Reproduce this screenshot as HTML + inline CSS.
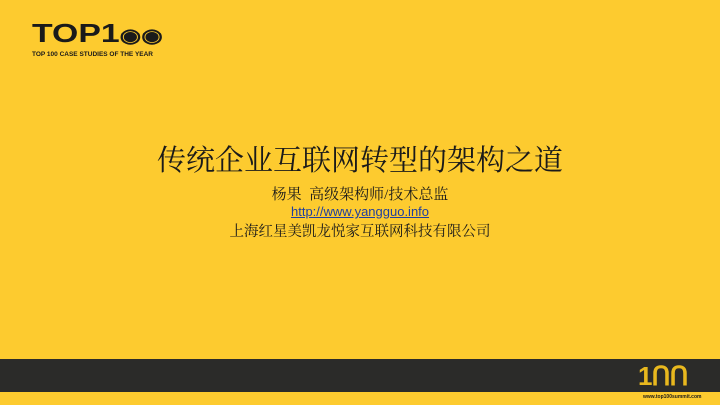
<!DOCTYPE html>
<html><head><meta charset="utf-8"><style>
body{margin:0}
#s{position:relative;width:720px;height:405px;background:#fdcb2f;overflow:hidden;font-family:"Liberation Sans","Noto Sans CJK SC",sans-serif}
.t{position:absolute;left:0;width:720px;text-align:center;color:#1a1a1a}
</style></head><body>
<div id="s">
 <div style="position:absolute;left:32px;top:20px;">
  <div style="font:900 26px 'Liberation Sans',sans-serif;color:#1a1a1a;line-height:26px;transform:scaleX(1.3);transform-origin:left">TOP1<span style="font-size:19px">◉◉</span></div>
  <div style="font:bold 6.5px 'Liberation Sans',sans-serif;color:#1a1a1a;margin-top:1px">TOP 100 CASE STUDIES OF THE YEAR</div>
 </div>
 <div class="t" style="top:138px;font-size:29px;font-family:'Liberation Serif','Noto Serif CJK SC',serif">传统企业互联网转型的架构之道</div>
 <div class="t" style="top:183px;font-size:15px;font-family:'Liberation Serif','Noto Serif CJK SC',serif">杨果&nbsp; 高级架构师/技术总监</div>
 <div class="t" style="top:204px;font-size:13px;color:#1f3f9f;text-decoration:underline">http://www.yangguo.info</div>
 <div class="t" style="top:220px;font-size:14.5px;font-family:'Liberation Serif','Noto Serif CJK SC',serif">上海红星美凯龙悦家互联网科技有限公司</div>
 <div style="position:absolute;left:0;top:359px;width:720px;height:33px;background:#2b2b29"></div>
 <div style="position:absolute;left:638px;top:362px;font:900 26px 'Liberation Sans',sans-serif;color:#e8b81e;letter-spacing:-1px;line-height:28px">1ՈՈ</div>
 <div style="position:absolute;left:643px;top:394px;font:bold 5px 'Liberation Sans',sans-serif;color:#1a1a1a">www.top100summit.com</div>
</div>
</body></html>
